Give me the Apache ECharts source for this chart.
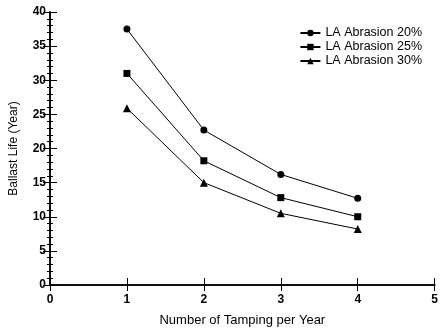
<!DOCTYPE html>
<html>
<head>
<meta charset="utf-8">
<script src="https://cdn.jsdelivr.net/npm/echarts@6/dist/echarts.min.js"></script>
<style>
  html, body { margin: 0; padding: 0; background: #fff; }
  #chart { width: 441px; height: 332px; }
</style>
</head>
<body>
<div id="chart"></div>
<script>
// data
var tamping = [1, 2, 3, 4];
var abrasion20 = [37.5, 22.7, 16.2, 12.7];
var abrasion25 = [31.0, 18.2, 12.8, 10.0];
var abrasion30 = [25.9, 15.0, 10.5, 8.2];
var seriesNames = ['LA Abrasion 20%', 'LA Abrasion 25%', 'LA Abrasion 30%'];

var font = 'Liberation Sans, Arial, sans-serif';

function pairs(ys) {
  return tamping.map(function (x, i) { return [x, ys[i]]; });
}

function mkSeries(name, ys, symbol, size) {
  return {
    name: name,
    type: 'line',
    data: pairs(ys),
    symbol: symbol,
    symbolSize: size,
    itemStyle: { color: '#000' },
    lineStyle: { color: '#000', width: 1 },
    animation: false
  };
}

var axisLine = { show: true, lineStyle: { color: '#000', width: 1.5 } };
var tickLbl = { fontFamily: font, fontSize: 12, fontWeight: 'bold', color: '#000' };

var myChart = echarts.init(document.getElementById('chart'));
myChart.setOption({
  backgroundColor: '#fff',
  grid: { left: 47, right: 6, top: 12, bottom: 45 },
  legend: {
    data: seriesNames,
    orient: 'vertical',
    right: 14,
    top: 21,
    itemWidth: 20,
    itemHeight: 8,
    itemGap: 0,
    textStyle: { fontFamily: font, fontSize: 12.5, lineHeight: 14, color: '#000' }
  },
  xAxis: [{
    type: 'value', min: 0, max: 5, interval: 1,
    name: 'Number of Tamping per Year',
    nameLocation: 'middle', nameGap: 29,
    nameTextStyle: { fontFamily: font, fontSize: 13, color: '#000' },
    axisLine: axisLine,
    axisTick: { inside: true, length: 7, lineStyle: { color: '#000' } },
    axisLabel: Object.assign({ margin: 9 }, tickLbl),
    splitLine: { show: false }
  }, {
    type: 'value', min: 0, max: 5, interval: 1, position: 'top',
    axisLine: axisLine,
    axisTick: { inside: true, length: 6, lineStyle: { color: '#000' } },
    axisLabel: { show: false },
    splitLine: { show: false }
  }],
  yAxis: [{
    type: 'value', min: 0, max: 40, interval: 5,
    name: 'Ballast Life (Year)',
    nameLocation: 'middle', nameGap: 30,
    nameTextStyle: { fontFamily: font, fontSize: 12, color: '#000' },
    axisLine: axisLine,
    axisTick: { inside: true, length: 7, lineStyle: { color: '#000' } },
    minorTick: { show: true, splitNumber: 5, length: 3, lineStyle: { color: '#000' } },
    axisLabel: Object.assign({ margin: 4 }, tickLbl),
    splitLine: { show: false }
  }, {
    type: 'value', min: 0, max: 40, interval: 5, position: 'right',
    axisLine: axisLine,
    axisTick: { inside: true, length: 7, lineStyle: { color: '#000' } },
    minorTick: { show: true, splitNumber: 5, length: 3, lineStyle: { color: '#000' } },
    axisLabel: { show: false },
    splitLine: { show: false }
  }],
  series: [
    mkSeries(seriesNames[0], abrasion20, 'circle', 7),
    mkSeries(seriesNames[1], abrasion25, 'rect', 7),
    mkSeries(seriesNames[2], abrasion30, 'triangle', 8)
  ]
});
</script>
</body>
</html>
